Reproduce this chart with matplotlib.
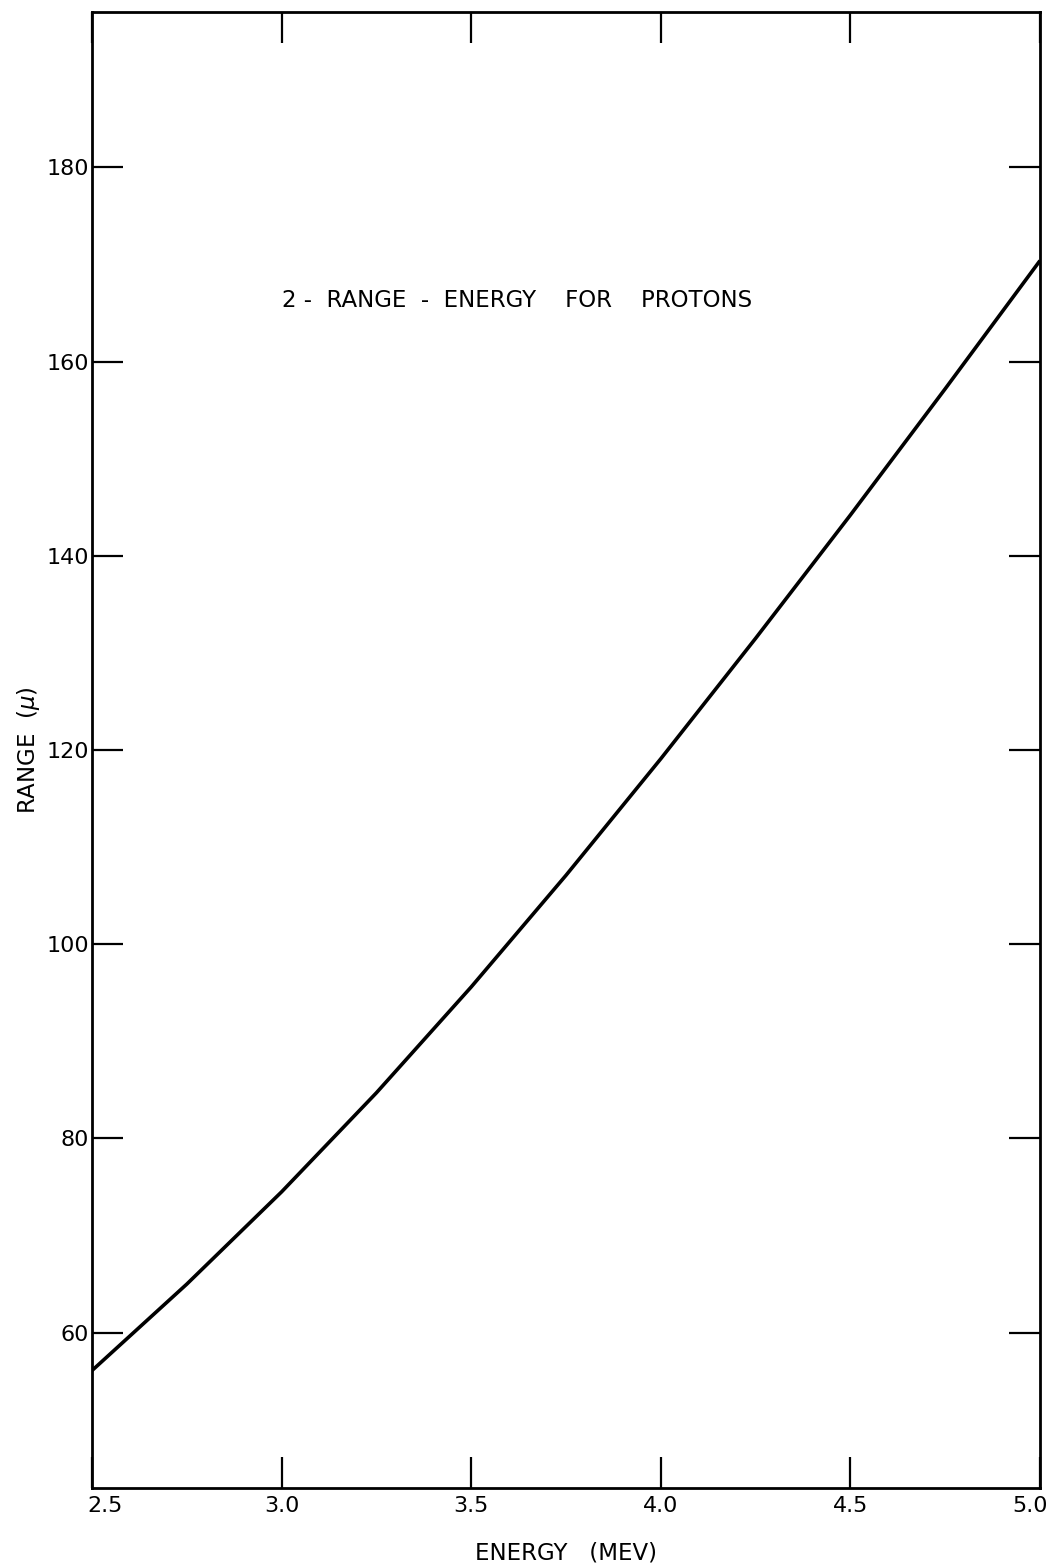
import numpy as np
import matplotlib
matplotlib.use('Agg')
import matplotlib.pyplot as plt
import matplotlib.transforms as mtransforms

# range-energy for protons
energy = [2.5, 2.75, 3.0, 3.25, 3.5, 3.75, 4.0, 4.25, 4.5, 4.75, 5.0]
range_u = [56.1, 65.0, 74.5, 84.7, 95.6, 107.1, 119.1, 131.5, 144.2, 157.2, 170.4]

xticks = [2.5, 3.0, 3.5, 4.0, 4.5, 5.0]
xticklabels = ['2.5', '3.0', '3.5', '4.0', '4.5', '5.0']
yticks = [60, 80, 100, 120, 140, 160, 180]

plt.rcParams['font.family'] = ['DejaVu Sans']

fig = plt.figure(figsize=(10.54, 15.66), dpi=100)
ax = fig.add_axes([0.0873, 0.0498, 0.8994, 0.9425])

ax.plot(energy, range_u, color='black', linewidth=2.6, solid_capstyle='butt')

ax.set_xlim(2.5, 5.0)
ax.set_ylim(44, 196)

ax.set_xticks(xticks)
ax.set_xticklabels(xticklabels)
ax.set_yticks(yticks)
ax.set_yticklabels([str(v) for v in yticks])

ax.tick_params(axis='both', direction='in', length=22, width=1.6, labelsize=16, colors='black')
ax.tick_params(axis='x', top=True, pad=6)
ax.tick_params(axis='y', right=True, pad=2)

# end labels sit a little inside the frame in the original
labs = ax.get_xticklabels()
labs[0].set_transform(labs[0].get_transform() + mtransforms.ScaledTranslation(0.13, 0, fig.dpi_scale_trans))
labs[-1].set_transform(labs[-1].get_transform() + mtransforms.ScaledTranslation(-0.10, 0, fig.dpi_scale_trans))

for s in ax.spines.values():
    s.set_linewidth(2.0)
    s.set_color('black')

ax.set_xlabel('ENERGY   (MEV)', fontsize=16.5, labelpad=18)
ax.set_ylabel('RANGE  ($\\mu$)', fontsize=16.5, labelpad=3)

ax.text(3.0, 166.3, '2 -  RANGE  -  ENERGY    FOR    PROTONS', fontsize=16.5, ha='left', va='center')

fig.savefig('out.png', dpi=100, facecolor='white')
